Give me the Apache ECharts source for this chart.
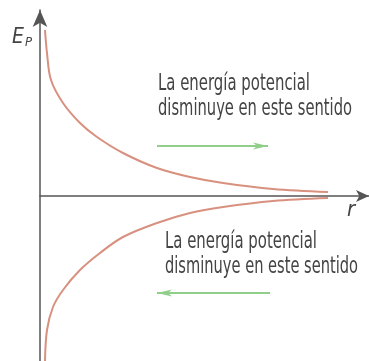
<!DOCTYPE html>
<html>
<head>
<meta charset="utf-8">
<script src="https://cdn.jsdelivr.net/npm/echarts@6/dist/echarts.min.js"></script>
<style>
  html, body {margin: 0; padding: 0; background: #fff;}
  #chart {width: 369px; height: 361px;}
</style>
</head>
<body>
<div id="chart"></div>
<script>
// curves: [r, Ep]
var upperCurve = [
  [0.5, 16.6], [0.7, 14.3], [1.1, 11.6], [2.3, 9.3], [4.0, 7.3], [5.7, 5.9],
  [8.3, 4.3], [11.7, 2.8], [15.0, 1.9], [18.3, 1.3], [23.3, 0.7], [28.8, 0.4]
];
var lowerCurve = [
  [0.5, -16.5], [0.7, -13.4], [1.3, -11.1], [2.3, -9.4], [4.0, -7.4], [6.0, -5.7],
  [8.3, -4.1], [11.7, -2.7], [15.0, -1.7], [18.3, -1.1], [23.3, -0.5], [28.8, -0.2]
];
var textLines = ['La energía potencial', 'disminuye en este sentido'];

var FONT = "'Liberation Sans Narrow', 'DejaVu Sans Condensed', sans-serif";
var TEXT_COLOR = '#444';
var CURVE_COLOR = '#d8907f';
var ARROW_COLOR = '#8fcf8a';

// squeeze text to the width it has in the picture
var measure = document.createElement('canvas').getContext('2d');
function fitText(str, x, y, size, width) {
  measure.font = size + 'px ' + FONT;
  var w = measure.measureText(str).width;
  return {
    type: 'text',
    x: x, y: y,
    scaleX: width / w,
    style: {text: str, font: size + 'px ' + FONT, fill: TEXT_COLOR, textVerticalAlign: 'bottom'}
  };
}

function greenArrow(x1, x2, y, dir) {
  var tip = dir > 0 ? x2 : x1;
  var back = tip - dir * 15;
  return [
    {type: 'line', shape: {x1: x1, y1: y, x2: x2, y2: y},
      style: {stroke: ARROW_COLOR, lineWidth: 1.8}},
    {type: 'polygon', shape: {points: [[tip, y], [back, y - 3.5], [back + dir * 4, y], [back, y + 3.5]]},
      style: {fill: ARROW_COLOR}}
  ];
}

var chart = echarts.init(document.getElementById('chart'));

var graphics = [
  fitText(textLines[0], 158, 96, 23, 152),
  fitText(textLines[1], 158, 121, 23, 194),
  fitText(textLines[0], 165, 254, 23, 152),
  fitText(textLines[1], 165, 279, 23, 193),
  {
    type: 'text', x: 12, y: 26,
    style: {
      text: '{e|E}{p|P}',
      rich: {
        e: {font: 'italic 21px ' + FONT, fill: '#444'},
        p: {font: 'italic 13px ' + FONT, fill: '#444', padding: [10, 0, 0, 1]}
      }
    }
  },
  {type: 'text', x: 347, y: 199, style: {text: 'r', font: 'italic 22px ' + FONT, fill: '#444'}}
].concat(greenArrow(157, 268, 146, 1), greenArrow(157, 270, 293, -1));

chart.setOption({
  animation: false,
  grid: {left: 40, right: 0, top: 10, bottom: 0},
  xAxis: {
    type: 'value',
    min: 0, max: 32.9,
    axisLine: {
      onZero: true,
      symbol: ['none', 'arrow'],
      symbolSize: [9, 13],
      lineStyle: {color: '#555', width: 1.5}
    },
    axisTick: {show: false},
    axisLabel: {show: false},
    splitLine: {show: false}
  },
  yAxis: {
    type: 'value',
    min: -16.5, max: 18.6,
    axisLine: {
      show: true,
      onZero: true,
      symbol: ['none', 'arrow'],
      symbolSize: [11, 17],
      lineStyle: {color: '#555', width: 1.5}
    },
    axisTick: {show: false},
    axisLabel: {show: false},
    splitLine: {show: false}
  },
  series: [
    {
      type: 'line', data: upperCurve, smooth: 0.35, showSymbol: false,
      lineStyle: {color: CURVE_COLOR, width: 2}
    },
    {
      type: 'line', data: lowerCurve, smooth: 0.35, showSymbol: false,
      lineStyle: {color: CURVE_COLOR, width: 2}
    }
  ],
  graphic: graphics
});
</script>
</body>
</html>
